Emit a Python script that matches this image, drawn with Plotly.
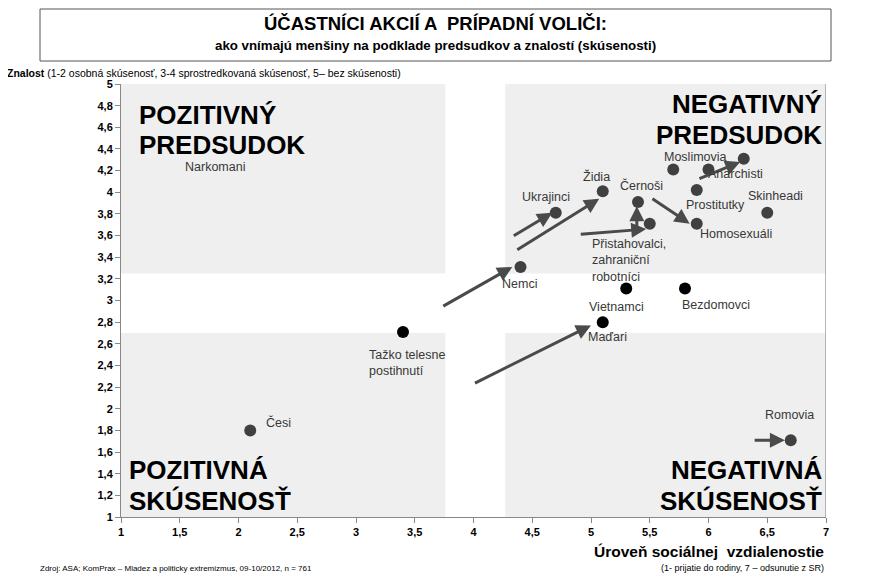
import plotly.graph_objects as go

# ---- data ----
names = ["Česi", "Tažko telesne postihnutí", "Nemci", "Ukrajinci", "Židia", "Černoši",
         "Přistahovalci", "Moslimovia", "Anarchisti", "Anarchisti (posun)", "Prostitutky",
         "Homosexuáli", "Skinheadi", "Vietnamci", "Bezdomovci", "Maďari", "Romovia"]
distance = [2.10, 3.40, 4.40, 4.70, 5.10, 5.40, 5.50, 5.70, 6.00, 6.30, 5.90, 5.90, 6.50, 5.30, 5.80, 5.10, 6.70]
knowledge = [1.80, 2.71, 3.31, 3.81, 4.01, 3.91, 3.71, 4.21, 4.21, 4.31, 4.02, 3.71, 3.81, 3.11, 3.11, 2.80, 1.71]
marker_col = ["#404040", "#000000", "#404040", "#404040", "#404040", "#404040", "#404040", "#404040",
              "#404040", "#404040", "#404040", "#404040", "#404040", "#000000", "#000000", "#000000", "#404040"]

label_text = ["Narkomani", "Česi", "Tažko telesne<br>postihnutí", "Nemci", "Ukrajinci", "Židia",
              "Černoši", "Moslimovia", "Anarchisti", "Prostitutky", "Skinheadi", "Homosexuáli",
              "Přistahovalci,<br>zahraniční<br>robotníci", "Vietnamci", "Bezdomovci", "Maďari", "Romovia"]
label_x = [1.80, 2.22, 3.09, 4.39, 4.62, 5.05, 5.43, 5.89, 6.23, 6.06, 6.57, 6.23, 4.99, 5.22, 6.06, 5.14, 6.69]
label_y = [4.23, 1.87, 2.42, 3.15, 3.96, 4.15, 4.06, 4.33, 4.17, 3.88, 3.97, 3.61, 3.37, 2.94, 2.96, 2.66, 1.94]
label_anchor = ["center", "left", "left", "center", "center", "center", "center", "center", "center",
                "center", "center", "center", "left", "center", "center", "center", "center"]

arrow_x0 = [3.73, 4.33, 4.36, 4.00, 4.90, 5.39, 5.51, 5.91, 6.38]
arrow_y0 = [2.94, 3.59, 3.46, 2.23, 3.61, 3.61, 3.95, 4.12, 1.71]
arrow_x1 = [4.33, 4.67, 5.07, 5.00, 5.47, 5.39, 5.84, 6.27, 6.65]
arrow_y1 = [3.31, 3.81, 3.94, 2.77, 3.66, 3.87, 3.71, 4.28, 1.71]

quadrant_lines = ["POZITIVNÝ", "PREDSUDOK", "NEGATIVNÝ", "PREDSUDOK",
                  "POZITIVNÁ", "SKÚSENOSŤ", "NEGATIVNÁ", "SKÚSENOSŤ"]

x_ticks = [1, 1.5, 2, 2.5, 3, 3.5, 4, 4.5, 5, 5.5, 6, 6.5, 7]
x_ticklabels = ["1", "1,5", "2", "2,5", "3", "3,5", "4", "4,5", "5", "5,5", "6", "6,5", "7"]
y_ticks = [1, 1.2, 1.4, 1.6, 1.8, 2, 2.2, 2.4, 2.6, 2.8, 3, 3.2, 3.4, 3.6, 3.8, 4, 4.2, 4.4, 4.6, 4.8, 5]
y_ticklabels = ["1", "1,2", "1,4", "1,6", "1,8", "2", "2,2", "2,4", "2,6", "2,8", "3", "3,2", "3,4",
                "3,6", "3,8", "4", "4,2", "4,4", "4,6", "4,8", "5"]

SANS = "Liberation Sans, Arial, sans-serif"

fig = go.Figure()
fig.add_trace(go.Scatter(x=distance, y=knowledge, mode="markers",
                         marker=dict(size=12, color=marker_col), hoverinfo="text",
                         text=names, showlegend=False))

shapes = []
for (x0, x1, y0, y1) in [(1, 3.76, 3.25, 5), (4.27, 7, 3.25, 5), (1, 3.76, 1, 2.70), (4.27, 7, 1, 2.70)]:
    shapes.append(dict(type="rect", xref="x", yref="y", x0=x0, x1=x1, y0=y0, y1=y1,
                       fillcolor="#efefef", line=dict(width=0), layer="below"))
shapes.append(dict(type="line", xref="x", yref="y", x0=7, x1=7, y0=1, y1=5,
                   line=dict(color="#a0a0a0", width=1.5), layer="below"))


def px(pix):
    return (pix - 121) / 705


def py(pix):
    return (517 - pix) / 433


shapes.append(dict(type="rect", xref="paper", yref="paper",
                   x0=px(40), x1=px(831), y0=py(61), y1=py(9),
                   line=dict(color="#555555", width=1), fillcolor="rgba(0,0,0,0)"))

ann = []
for i in range(len(arrow_x0)):
    ann.append(dict(x=arrow_x1[i], y=arrow_y1[i], ax=arrow_x0[i], ay=arrow_y0[i],
                    xref="x", yref="y", axref="x", ayref="y", showarrow=True,
                    arrowhead=2, arrowsize=1, arrowwidth=3, arrowcolor="#4a4a4a", text=""))
for t, lx, ly, a in zip(label_text, label_x, label_y, label_anchor):
    ann.append(dict(x=lx, y=ly, xref="x", yref="y", text=t, showarrow=False, xanchor=a,
                    yanchor="middle", align="left", font=dict(family=SANS, size=12.5, color="#383838")))

# quadrant captions, one line each (page-pixel placement of each line)
q_pos = [(138, 114, "left"), (138, 144, "left"), (823, 103, "right"), (823, 134, "right"),
         (128, 469, "left"), (128, 500, "left"), (823, 469, "right"), (823, 500, "right")]
for t, (qx, qy, xa) in zip(quadrant_lines, q_pos):
    ann.append(dict(x=px(qx), y=py(qy + 1), xref="paper", yref="paper", text="<b>" + t + "</b>",
                    showarrow=False, xanchor=xa, yanchor="middle", borderpad=0,
                    font=dict(family=SANS, size=26, color="#000000")))

ann += [
    dict(x=px(435), y=py(23), text="<b>ÚČASTNÍCI AKCIÍ A  PRÍPADNÍ VOLIČI:</b>",
         xanchor="center", font=dict(family=SANS, size=18.5, color="#000")),
    dict(x=px(435), y=py(45),
         text="<b>ako vnímajú menšiny na podklade predsudkov a znalostí (skúsenosti)</b>",
         xanchor="center", font=dict(family=SANS, size=13.3, color="#000")),
    dict(x=px(5), y=py(73), xanchor="left",
         text="<b>Znalost</b> (1-2 osobná skúsenosť, 3-4 sprostredkovaná skúsenosť, 5– bez skúsenosti)",
         font=dict(family=SANS, size=10.5, color="#000")),
    dict(x=1, y=py(551), xanchor="right",
         text="<b>Úroveň sociálnej  vzdialenostie</b>", font=dict(family=SANS, size=15.5, color="#000")),
    dict(x=1, y=py(568), xanchor="right",
         text="(1- prijatie do rodiny, 7 – odsunutie z SR)", font=dict(family=SANS, size=9, color="#000")),
    dict(x=px(38), y=py(568), xanchor="left",
         text="Zdroj: ASA; KomPrax – Mladez a politicky extremizmus, 09-10/2012, n = 761",
         font=dict(family=SANS, size=8, color="#000")),
]
for a in ann[-6:]:
    a.update(xref="paper", yref="paper", showarrow=False, yanchor="middle")

fig.update_layout(
    width=863, height=568, margin=dict(l=113, r=45, t=76, b=59),
    paper_bgcolor="white", plot_bgcolor="white",
    shapes=shapes, annotations=ann, showlegend=False,
    xaxis=dict(range=[1, 7], tickvals=x_ticks, ticktext=["<b>" + t + "</b>" for t in x_ticklabels],
               showgrid=False, zeroline=False, automargin=False,
               showline=True, linecolor="#888888", linewidth=1, ticks="outside", ticklen=5,
               tickcolor="#888888", tickfont=dict(family=SANS, size=11, color="#000"), fixedrange=True),
    yaxis=dict(range=[1, 5], tickvals=y_ticks, ticktext=["<b>" + t + "</b>" for t in y_ticklabels],
               showgrid=False, zeroline=False, automargin=False,
               showline=True, linecolor="#888888", linewidth=1, ticks="outside", ticklen=5,
               tickcolor="#888888", tickfont=dict(family=SANS, size=11, color="#000"), fixedrange=True),
)
fig.write_html("out.html")
